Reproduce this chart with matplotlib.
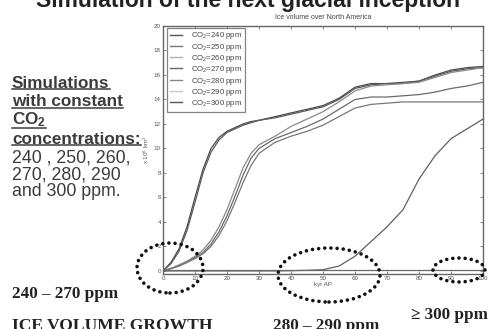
import matplotlib
matplotlib.use("Agg")
import matplotlib.pyplot as plt
from matplotlib.patches import Ellipse
from matplotlib.lines import Line2D

plt.rcParams['font.family'] = ['Liberation Sans', 'DejaVu Sans']
plt.rcParams['mathtext.default'] = 'regular'

# ---------------- data ----------------
kyr = [0, 2.5, 5, 7.5, 10, 12.5, 15, 17.5, 20, 22.5, 25, 27.5, 30, 35, 40, 45,
       50, 55, 60, 65, 70, 75, 80, 85, 90, 95, 100]
co2_levels = [240, 250, 260, 270, 280, 290, 300]
ice_240 = [0, 0.7, 1.8, 3.6, 6.0, 8.3, 10.0, 10.9, 11.4, 11.7, 12.0, 12.2, 12.3, 12.6, 12.9, 13.2,
           13.5, 14.1, 15.0, 15.3, 15.3, 15.4, 15.5, 16.0, 16.4, 16.6, 16.7]
ice_250 = [0, 0.6, 1.6, 3.3, 5.6, 8.0, 9.7, 10.7, 11.3, 11.6, 11.9, 12.1, 12.3, 12.5, 12.8, 13.1,
           13.4, 14.0, 14.9, 15.2, 15.3, 15.3, 15.5, 15.9, 16.3, 16.5, 16.6]
ice_260 = [0, 0.2, 0.5, 0.8, 1.2, 1.7, 2.5, 3.6, 5.0, 6.7, 8.4, 9.6, 10.3, 11.0, 11.8, 12.4,
           13.0, 13.8, 14.7, 15.1, 15.2, 15.3, 15.4, 15.8, 16.2, 16.4, 16.6]
ice_270 = [0, 0.2, 0.4, 0.7, 1.1, 1.5, 2.2, 3.2, 4.5, 6.1, 7.8, 9.2, 10.0, 10.8, 11.3, 11.8,
           12.4, 13.2, 14.0, 14.2, 14.2, 14.3, 14.4, 14.6, 14.9, 15.1, 15.4]
ice_280 = [0, 0.2, 0.4, 0.7, 1.0, 1.4, 2.0, 2.9, 4.1, 5.6, 7.2, 8.6, 9.6, 10.5, 11.0, 11.4,
           11.9, 12.6, 13.3, 13.6, 13.7, 13.8, 13.8, 13.8, 13.8, 13.8, 13.8]
ice_290 = [0, 0, 0, 0, 0, 0, 0, 0, 0, 0, 0, 0, 0, 0, 0.02, 0.05,
           0.1, 0.4, 1.2, 2.4, 3.6, 5.0, 7.5, 9.4, 10.8, 11.6, 12.4]
ice_300 = [0.05] * 27
series = [ice_240, ice_250, ice_260, ice_270, ice_280, ice_290, ice_300]
line_colors = ['#4a4a4a', '#5a5a5a', '#8a8a8a', '#6a6a6a', '#777777', '#606060', '#6a6a6a']
legend_colors = ['#555555', '#777777', '#b0b0b0', '#666666', '#888888', '#c8c8c8', '#555555']

W, H = 492, 329
fig = plt.figure(figsize=(W / 100, H / 100), dpi=100)
fig.patch.set_facecolor('white')

ax = fig.add_axes([163 / W, 1 - 274 / H, 320 / W, 248 / H])
for ys, c in zip(series, line_colors):
    ax.plot(kyr, ys, color=c, lw=0.9)
ax.set_xlim(0, 100)
ax.set_ylim(-0.25, 20)
ax.set_xticks(range(0, 101, 10))
ax.set_yticks(range(0, 21, 2))
ax.tick_params(direction='in', length=2, width=0.5, labelsize=4.5, colors='#555555',
               top=True, right=True, pad=1.5)
for s in ax.spines.values():
    s.set_color('#666666')
    s.set_linewidth(1.0)
ax.set_title('Ice volume over North America', fontsize=5, color='#444444', pad=5)
ax.set_xlabel('kyr AP', fontsize=4.5, color='#555555', labelpad=1)
ax.set_ylabel(r'x 10$^6$ km$^3$', fontsize=4.5, color='#555555', labelpad=2)

handles = [Line2D([0], [0], color=c, lw=1.0) for c in legend_colors]
labels = ['CO$_2$=%d ppm' % v for v in co2_levels]
leg = ax.legend(handles, labels, loc='upper left', bbox_to_anchor=(0.008, 1.0),
                fontsize=5.6, handlelength=1.6, handletextpad=1.1, labelspacing=0.04,
                borderpad=0.35, frameon=True, fancybox=False, borderaxespad=0.2)
leg.get_frame().set_edgecolor('#666666')
leg.get_frame().set_linewidth(0.9)
for t in leg.get_texts():
    t.set_color('#444444')

# ---------------- slide texts ----------------
def fy(p):
    return 1 - p / H

fig.text(248 / W, fy(7), 'Simulation of the next glacial inception', ha='center',
         va='baseline', fontsize=16.5, fontweight='bold', color='#222222')

txt_col = '#3c3c3c'
under = []
for s, y in [('Simulations', 83), ('with constant', 102), ('CO$_2$', 120),
             ('concentrations:', 139)]:
    t = fig.text(12 / W, fy(y), s, ha='left', va='center', fontsize=12.3,
                 fontweight='bold', color=txt_col)
    under.append(t)
for s, y in [('240 , 250, 260,', 158), ('270, 280, 290', 175), ('and 300 ppm.', 192)]:
    fig.text(12 / W, fy(y), s, ha='left', va='center', fontsize=12.8, color=txt_col)

serif = ['Liberation Serif', 'DejaVu Serif']
fig.text(12 / W, fy(294), '240 – 270 ppm', ha='left', va='center', fontsize=12.3,
         fontweight='bold', family=serif, color='#222222')
fig.text(12 / W, fy(326), 'ICE VOLUME GROWTH', ha='left', va='center', fontsize=12.6,
         fontweight='bold', family=serif, color='#222222')
fig.text(273 / W, fy(326), '280 – 290 ppm', ha='left', va='center', fontsize=12.3,
         fontweight='bold', family=serif, color='#222222')
fig.text(488 / W, fy(315), '≥ 300 ppm', ha='right', va='center', fontsize=12.3,
         fontweight='bold', family=serif, color='#222222')

# dotted ellipses
for cx, cy, w, h in [(170, 268, 66, 50), (329, 275, 102, 54), (459, 270, 52, 24)]:
    e = Ellipse((cx / W, fy(cy)), w / W, h / H, transform=fig.transFigure, fill=False,
                edgecolor='#111111', lw=2.6, linestyle=(0, (0.01, 1.7)), clip_on=False)
    e.set_capstyle('round')
    fig.add_artist(e)

# underlines
fig.canvas.draw()
r = fig.canvas.get_renderer()
for t in under:
    bb = t.get_window_extent(renderer=r)
    yb = bb.y0 + 1.5
    fig.add_artist(Line2D([bb.x0 / W, bb.x1 / W], [yb / H, yb / H],
                          transform=fig.transFigure, color=txt_col, lw=1.1))

fig.savefig('out.png', dpi=100)
